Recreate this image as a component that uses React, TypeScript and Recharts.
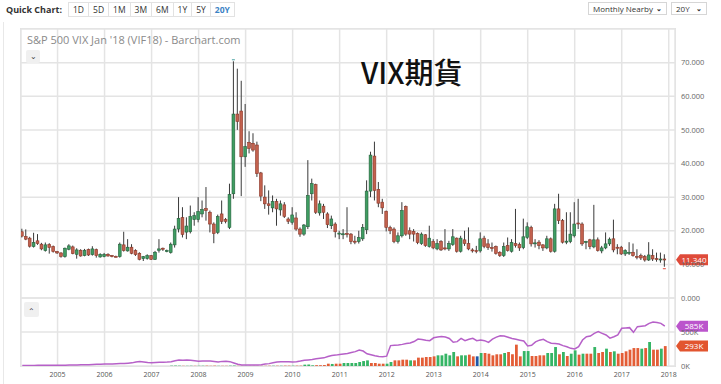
import React from 'react';
import { ComposedChart, Bar, Line, XAxis, YAxis, CartesianGrid, ReferenceLine, Cell } from 'recharts';

// monthly nearby VIX futures, Apr 2004 .. Dec 2017 (index 0 = Apr 2004)
const opens = [
  19.7, 18.3, 17.8, 15.3, 17.0, 16.0, 14.1, 15.9, 15.3,
  13.8, 13.4, 12.3, 14.5, 15.2, 13.0, 14.2, 12.6, 14.4, 12.9, 14.4, 12.2,
  12.3, 13.0, 12.6, 12.4, 12.3, 15.8, 14.0, 15.1, 14.1, 13.3, 11.7, 11.7,
  12.6, 11.5, 14.2, 14.8, 14.0, 13.5, 15.8, 20.5, 23.9, 19.6, 19.7, 23.3,
  23.3, 25.0, 26.6, 25.5, 22.0, 19.5, 25.0, 23.3, 21.0, 31.0, 54.7, 55.6,
  42.0, 46.3, 46.0, 45.5, 37.2, 30.0, 28.0, 26.8, 28.7, 26.2, 27.7, 23.5,
  22.5, 23.8, 20.5, 19.0, 21.2, 31.0, 33.7, 25.3, 27.3, 25.0, 21.5, 22.0,
  19.2, 19.0, 19.2, 19.0, 16.9, 16.8, 17.6, 20.3, 31.8, 42.2, 32.3, 28.5,
  25.8, 21.0, 20.5, 16.8, 18.5, 27.2, 20.0, 19.8, 19.2, 16.2, 18.8, 15.3,
  16.8, 14.6, 16.8, 14.9, 14.6, 15.9, 17.8, 13.9, 17.3, 16.2, 14.3, 14.1,
  14.0, 17.8, 16.1, 15.0, 15.3, 13.6, 12.6, 15.6, 13.9, 16.2, 15.9, 15.0,
  18.0, 21.0, 16.2, 16.6, 15.8, 14.9, 17.6, 13.9, 26.5, 23.0, 16.6, 16.8,
  18.5, 22.3, 22.0, 16.6, 17.3, 15.2, 17.3, 14.0, 14.9, 16.1, 17.6, 15.1,
  15.1, 13.1, 13.6, 13.6, 12.4, 12.6, 12.3, 11.3, 12.6, 11.7, 11.5, 11.6,
];
const highs = [
  20.6, 20.4, 18.2, 19.4, 19.0, 16.4, 16.5, 16.3, 15.6,
  14.0, 13.6, 15.0, 16.0, 15.6, 14.8, 14.5, 14.6, 14.7, 15.4, 14.7, 13.3,
  13.4, 13.3, 12.8, 12.6, 16.5, 19.7, 17.5, 16.0, 14.5, 13.6, 12.5, 13.0,
  12.8, 14.0, 17.5, 15.0, 14.4, 16.5, 21.5, 30.0, 27.0, 24.0, 27.5, 25.5,
  30.0, 29.0, 33.0, 26.0, 22.5, 24.8, 29.0, 23.8, 34.0, 70.4, 68.2, 64.6,
  57.7, 49.6, 49.0, 46.5, 37.5, 33.5, 32.0, 30.5, 29.5, 29.0, 28.5, 24.0,
  27.0, 25.5, 21.0, 22.0, 41.0, 35.5, 34.0, 29.0, 28.0, 25.5, 24.5, 22.5,
  20.0, 20.5, 27.0, 19.3, 18.5, 20.0, 22.0, 35.0, 43.5, 46.5, 34.5, 29.5,
  26.0, 21.5, 21.0, 19.5, 28.5, 27.5, 21.0, 20.5, 19.5, 19.5, 19.0, 21.5,
  17.5, 17.5, 17.2, 20.5, 17.0, 20.5, 18.0, 18.5, 20.0, 21.0, 14.8, 15.5,
  19.5, 18.5, 17.5, 16.5, 15.6, 13.9, 16.5, 18.0, 17.5, 26.5, 16.5, 23.6,
  22.5, 21.5, 17.5, 17.2, 16.0, 18.5, 18.0, 28.0, 31.0, 23.5, 25.5, 25.5,
  28.5, 29.5, 22.5, 17.0, 17.6, 27.7, 18.0, 15.5, 19.5, 18.0, 23.3, 16.0,
  15.5, 14.5, 16.6, 16.2, 14.5, 13.2, 12.8, 16.6, 14.5, 13.5, 13.5, 13.0,
];
const lows = [
  18.0, 17.2, 15.0, 15.0, 15.8, 14.2, 13.8, 13.2, 13.5,
  13.1, 12.0, 12.0, 14.2, 13.0, 11.7, 12.3, 12.4, 12.5, 12.6, 12.0, 12.0,
  12.1, 12.3, 12.1, 12.1, 12.0, 13.8, 13.8, 13.0, 12.5, 11.2, 11.0, 11.4,
  11.3, 11.3, 13.5, 14.0, 13.6, 13.2, 15.0, 19.5, 18.0, 17.5, 19.2, 21.5,
  22.5, 24.0, 23.0, 19.5, 16.3, 19.0, 22.0, 22.2, 20.5, 29.5, 50.0, 30.3,
  39.0, 43.0, 43.5, 36.0, 28.8, 26.5, 24.8, 25.5, 21.5, 24.5, 23.8, 22.0,
  21.8, 20.0, 18.2, 18.5, 20.5, 29.0, 25.0, 24.5, 23.5, 20.8, 20.5, 18.0,
  17.5, 17.5, 18.0, 16.0, 16.0, 16.2, 17.0, 19.0, 30.0, 29.0, 27.0, 25.0,
  19.8, 19.0, 16.3, 16.2, 18.0, 18.5, 17.5, 16.8, 16.0, 15.8, 15.2, 15.0,
  14.5, 14.2, 14.0, 14.2, 14.0, 15.5, 13.5, 13.5, 15.5, 14.2, 13.5, 13.3,
  13.5, 14.8, 14.3, 13.8, 12.9, 12.2, 12.2, 13.8, 13.5, 15.0, 14.0, 14.5,
  17.5, 15.3, 15.0, 14.5, 14.0, 14.5, 13.5, 13.5, 22.0, 16.2, 16.0, 16.3,
  18.0, 20.5, 15.5, 14.5, 14.5, 14.8, 13.8, 13.3, 14.5, 15.5, 13.6, 13.0,
  12.8, 12.5, 12.8, 12.3, 11.5, 11.3, 10.8, 11.0, 11.0, 10.8, 10.5, 9.3,
];
const closes = [
  18.4, 17.5, 15.4, 16.5, 16.2, 14.6, 15.8, 15.0, 13.8,
  13.4, 12.4, 14.8, 15.5, 13.2, 14.3, 12.5, 14.2, 12.8, 14.6, 12.6, 13.0,
  13.0, 12.5, 12.3, 12.3, 16.0, 14.1, 15.1, 13.3, 12.9, 11.5, 12.3, 12.6,
  11.5, 13.6, 14.6, 14.5, 14.1, 16.0, 20.5, 23.7, 18.9, 21.4, 24.3, 24.5,
  25.7, 26.3, 26.0, 22.0, 19.2, 24.2, 22.8, 22.8, 30.8, 54.7, 52.5, 42.0,
  45.0, 44.5, 44.0, 37.0, 30.3, 28.0, 27.5, 28.7, 26.5, 28.0, 24.3, 22.8,
  24.7, 20.5, 19.0, 21.7, 30.5, 34.0, 25.5, 28.0, 25.5, 21.8, 23.5, 19.7,
  19.3, 19.1, 19.0, 16.8, 16.7, 18.0, 21.0, 31.8, 42.5, 32.0, 28.2, 26.8,
  21.0, 20.0, 16.8, 18.5, 26.0, 19.0, 19.0, 19.0, 16.5, 19.0, 15.6, 17.8,
  14.9, 16.2, 14.3, 14.8, 16.2, 18.2, 13.9, 17.8, 16.2, 14.6, 14.1, 14.0,
  17.6, 15.3, 15.0, 14.9, 13.3, 12.6, 15.3, 14.1, 16.5, 15.6, 14.9, 18.2,
  21.2, 16.1, 16.4, 15.6, 14.9, 17.6, 13.9, 26.5, 23.0, 16.6, 16.9, 19.0,
  22.0, 22.1, 16.1, 16.8, 15.3, 17.3, 14.1, 14.9, 16.1, 17.5, 14.3, 14.8,
  13.1, 14.1, 13.6, 12.6, 12.3, 11.9, 11.3, 12.8, 11.6, 11.6, 11.6, 11.34,
];
// volume and open interest, thousands of contracts
const volumes = [
  0, 0, 0, 0, 0, 0, 0, 0, 0,
  0, 0, 0, 0, 0, 0, 0, 0, 0, 0, 0, 0,
  0, 0, 0, 0, 0, 0, 0, 0, 0, 0, 0, 0,
  0, 0, 0, 0, 0, 5, 6, 5, 3, 3, 4, 3,
  4, 4, 5, 3, 5, 3, 3, 3, 5, 6, 3, 3,
  3, 3, 3, 3, 3, 3, 4, 4, 4, 4, 5, 5,
  5, 5, 5, 20, 22, 10, 12, 12, 14, 34, 30, 34,
  34, 44, 44, 44, 44, 59, 73, 83, 44, 44, 34, 34,
  34, 59, 83, 83, 93, 93, 83, 83, 123, 123, 132, 132,
  142, 157, 157, 181, 157, 206, 142, 157, 157, 167, 142, 142,
  191, 191, 181, 157, 172, 172, 191, 206, 172, 314, 142, 220,
  220, 147, 147, 157, 157, 191, 191, 279, 172, 206, 147, 181,
  230, 167, 181, 181, 181, 279, 191, 206, 255, 206, 216, 181,
  191, 216, 240, 264, 264, 255, 264, 353, 240, 240, 255, 293,
];
const volSides = [
  'u', 'u', 'u', 'u', 'u', 'u', 'u', 'u', 'u',
  'u', 'u', 'u', 'u', 'u', 'u', 'u', 'u', 'u', 'u', 'u', 'u',
  'u', 'u', 'u', 'u', 'u', 'u', 'u', 'u', 'u', 'u', 'u', 'u',
  'u', 'u', 'u', 'u', 'u', 'u', 'u', 'u', 'd', 'u', 'u', 'd',
  'u', 'u', 'd', 'd', 'd', 'u', 'd', 'd', 'u', 'u', 'd', 'd',
  'u', 'd', 'd', 'd', 'd', 'd', 'd', 'u', 'd', 'u', 'd', 'd',
  'u', 'd', 'd', 'u', 'u', 'u', 'd', 'd', 'd', 'd', 'u', 'd',
  'd', 'u', 'u', 'u', 'u', 'u', 'u', 'u', 'd', 'd', 'd', 'd',
  'u', 'u', 'd', 'd', 'd', 'd', 'u', 'd', 'd', 'd', 'd', 'd',
  'd', 'u', 'u', 'u', 'u', 'u', 'd', 'u', 'u', 'd', 'd', 'n',
  'u', 'd', 'd', 'd', 'd', 'd', 'u', 'd', 'd', 'd', 'd', 'u',
  'u', 'd', 'd', 'd', 'd', 'u', 'u', 'u', 'd', 'u', 'd', 'u',
  'u', 'd', 'u', 'd', 'd', 'u', 'd', 'd', 'u', 'd', 'u', 'd',
  'd', 'd', 'd', 'd', 'd', 'u', 'd', 'u', 'd', 'd', 'u', 'd',
];
const openInterest = [
  8, 8, 9, 9, 10, 10, 10, 11, 11,
  11, 12, 12, 14, 15, 16, 18, 19, 20, 22, 24, 26,
  28, 28, 30, 32, 35, 38, 42, 46, 60, 66, 58, 50,
  49, 52, 54, 56, 58, 62, 78, 88, 85, 88, 84, 78,
  70, 72, 75, 72, 66, 60, 68, 70, 64, 45, 25, 15,
  14, 15, 15, 16, 20, 28, 35, 48, 58, 62, 64, 62,
  58, 62, 72, 85, 90, 95, 105, 115, 120, 140, 155, 160,
  168, 176, 185, 200, 211, 235, 220, 180, 165, 150, 140, 137,
  145, 300, 305, 308, 318, 330, 338, 360, 397, 390, 378, 372,
  415, 425, 432, 425, 405, 350, 358, 405, 373, 392, 407, 373,
  382, 373, 348, 395, 425, 446, 440, 422, 405, 392, 380, 368,
  294, 305, 355, 380, 392, 358, 335, 330, 323, 300, 284, 260,
  250, 284, 382, 430, 441, 480, 505, 480, 456, 410, 430, 456,
  554, 560, 564, 495, 578, 585, 593, 627, 647, 640, 627, 585,
];

// x positions of January of each year (months since Apr 2004)
const yearTicks = [9, 21, 33, 45, 57, 69, 81, 93, 105, 117, 129, 141, 153, 165];
const yearLabels = ['2005', '2006', '2007', '2008', '2009', '2010', '2011', '2012', '2013', '2014', '2015', '2016', '2017', '2018'];
const priceTicks = [0, 10, 20, 30, 40, 50, 60, 70, 80];
const volumeTicks = [0, 500, 1000];
const quickRanges = ['1D', '5D', '1M', '3M', '6M', '1Y', '5Y', '20Y'];

const data = opens.map((o, i) => ({
  t: i,
  open: o,
  high: highs[i],
  low: lows[i],
  close: closes[i],
  range: [lows[i], highs[i]],
  vol: volumes[i],
  side: volSides[i],
  oi: openInterest[i],
}));

const maxHigh = Math.max(...highs);
const minLow = Math.min(...lows);
const last = data[data.length - 1];

const X_DOMAIN: [number, number] = [-0.33, 166.6];
const GRID = '#e4e4e4';
const FONT = "'Open Sans', sans-serif";

const Candle = (props: any) => {
  const { x, y, width, height, payload } = props;
  if (x == null || y == null || !payload) return null;
  const top = Math.min(y, y + height);
  const h = Math.abs(height);
  const span = payload.high - payload.low;
  const k = span > 0 ? h / span : 0;
  const yOf = (v: number) => top + (payload.high - v) * k;
  const cx = x + width / 2;
  const up = payload.close >= payload.open;
  const bTop = yOf(Math.max(payload.open, payload.close));
  const bBot = yOf(Math.min(payload.open, payload.close));
  const bh = Math.max(bBot - bTop, 1);
  return (
    <g>
      <line x1={cx} x2={cx} y1={top} y2={top + h} stroke="#3a3a3a" strokeWidth={1} />
      <rect
        x={cx - 1.4}
        y={bTop}
        width={2.8}
        height={bh}
        fill={up ? '#3f9d62' : '#c2614e'}
        stroke={up ? '#245f3b' : '#8a3627'}
        strokeWidth={0.6}
      />
      {payload.high === maxHigh && (
        <line x1={cx - 1.5} x2={cx + 1.5} y1={top - 1.5} y2={top - 1.5} stroke="#4aa3a3" strokeWidth={1} />
      )}
      {payload.low === minLow && (
        <line x1={cx - 1.5} x2={cx + 1.5} y1={top + h + 2} y2={top + h + 2} stroke="#e0483c" strokeWidth={1} />
      )}
    </g>
  );
};

const Tag = ({ viewBox, text, color }: any) => {
  if (!viewBox) return null;
  const x0 = viewBox.x + viewBox.width + 1;
  const yc = viewBox.y;
  const w = 28;
  return (
    <g>
      <polygon
        points={`${x0},${yc} ${x0 + 4},${yc - 5.5} ${x0 + 4 + w},${yc - 5.5} ${x0 + 4 + w},${yc + 5.5} ${x0 + 4},${yc + 5.5}`}
        fill={color}
      />
      <text x={x0 + 4 + w / 2} y={yc + 3} textAnchor="middle" fill="#fff" fontSize={8} fontFamily={FONT}>
        {text}
      </text>
    </g>
  );
};

const volColor = (s: string) => (s === 'u' ? '#35b565' : s === 'd' ? '#e35d36' : '#1f57a8');

const abs = (left: number, top: number, extra: React.CSSProperties = {}): React.CSSProperties => ({
  position: 'absolute',
  left,
  top,
  ...extra,
});

export default function App() {
  return (
    <div style={{ position: 'absolute', left: 0, top: 0, width: 721, height: 384, background: '#fff', overflow: 'hidden', fontFamily: FONT }}>
      {/* header row */}
      <div style={abs(6, 2, { fontSize: 9, fontWeight: 700, color: '#333', lineHeight: '15px' })}>Quick Chart:</div>
      <div style={abs(68, 2, { display: 'flex', height: 15, border: '1px solid #e2e2e2', boxSizing: 'border-box' })}>
        {quickRanges.map((r, i) => (
          <div
            key={r}
            style={{
              padding: '0 4px',
              fontSize: 8.5,
              lineHeight: '13px',
              color: r === '20Y' ? '#3b82c4' : '#333',
              fontWeight: r === '20Y' ? 700 : 400,
              borderLeft: i === 0 ? 'none' : '1px solid #e2e2e2',
            }}
          >
            {r}
          </div>
        ))}
      </div>
      <div style={abs(588, 2, { width: 79, height: 13, border: '1px solid #d6d6d6', boxSizing: 'border-box', fontSize: 8, lineHeight: '11px', color: '#333', paddingLeft: 4 })}>
        Monthly Nearby <span style={{ position: 'absolute', right: 4, fontSize: 7, fontWeight: 700 }}>&#8964;</span>
      </div>
      <div style={abs(671, 2, { width: 36, height: 13, border: '1px solid #d6d6d6', boxSizing: 'border-box', fontSize: 8, lineHeight: '11px', color: '#333', paddingLeft: 4 })}>
        20Y <span style={{ position: 'absolute', right: 4, fontSize: 7, fontWeight: 700 }}>&#8964;</span>
      </div>

      {/* outer container line */}
      <div style={abs(3, 22, { width: 1, height: 362, background: '#e8e8e8' })} />
      {/* plot frame */}
      <div style={abs(20, 28, { width: 656, height: 339, border: '1px solid #e2e2e2', boxSizing: 'border-box' })} />

      <div style={abs(0, 0)}>
        <ComposedChart width={721} height={384} data={data} margin={{ top: 29, right: 0, bottom: 86, left: 21 }}>
          <CartesianGrid stroke={GRID} strokeWidth={1.5} />
          <XAxis type="number" dataKey="t" domain={X_DOMAIN} ticks={yearTicks} hide allowDataOverflow />
          <YAxis
            orientation="right"
            width={46}
            domain={[0, 80]}
            ticks={priceTicks}
            tickFormatter={(v: number) => (v === 80 ? '' : v.toFixed(3))}
            tick={{ fontSize: 7.5, fill: '#666', fontFamily: FONT, textAnchor: 'start' }}
            axisLine={false}
            tickLine={false}
            tickMargin={0}
            allowDataOverflow
          />
          <Bar dataKey="range" barSize={3} shape={<Candle />} isAnimationActive={false} />
          <ReferenceLine y={last.close} stroke="none" ifOverflow="visible" label={<Tag text={last.close.toFixed(3)} color="#df4b3a" />} />
        </ComposedChart>
      </div>

      <div style={abs(0, 0)}>
        <ComposedChart width={721} height={384} data={data} margin={{ top: 298, right: 0, bottom: 0, left: 21 }}>
          <CartesianGrid stroke={GRID} strokeWidth={1.5} />
          <XAxis
            type="number"
            dataKey="t"
            domain={X_DOMAIN}
            ticks={yearTicks}
            height={18}
            tickFormatter={(v: number) => yearLabels[yearTicks.indexOf(v)] ?? ''}
            tick={{ fontSize: 7, fill: '#555', fontFamily: FONT }}
            axisLine={false}
            tickLine={false}
            tickMargin={0}
            allowDataOverflow
          />
          <YAxis
            orientation="right"
            width={46}
            domain={[0, 1000]}
            ticks={volumeTicks}
            tickFormatter={(v: number) => (v === 1000 ? '' : `${v}K`)}
            tick={{ fontSize: 7.5, fill: '#666', fontFamily: FONT, textAnchor: 'start' }}
            axisLine={false}
            tickLine={false}
            tickMargin={0}
            allowDataOverflow
          />
          <Bar dataKey="vol" barSize={2.8} isAnimationActive={false}>
            {data.map((d) => (
              <Cell key={d.t} fill={volColor(d.side)} />
            ))}
          </Bar>
          <Line type="linear" dataKey="oi" stroke="#b660c8" strokeWidth={1.5} dot={false} isAnimationActive={false} />
          <ReferenceLine y={last.oi} stroke="none" ifOverflow="visible" label={<Tag text={`${last.oi}K`} color="#bb55cc" />} />
          <ReferenceLine y={last.vol} stroke="none" ifOverflow="visible" label={<Tag text={`${last.vol}K`} color="#e2552f" />} />
        </ComposedChart>
      </div>

      {/* title and panel buttons */}
      <div style={abs(27, 32, { fontSize: 11, color: '#8a8a8a', whiteSpace: 'nowrap' })}>S&amp;P 500 VIX Jan '18 (VIF18) - Barchart.com</div>
      <div style={abs(26, 50, { width: 14, height: 13, background: '#f0f0f0', borderRadius: 2, fontSize: 8, lineHeight: '11px', textAlign: 'center', color: '#444' })}>&#8964;</div>
      <div style={abs(24, 302, { width: 15, height: 15, background: '#f0f0f0', borderRadius: 2, fontSize: 8, lineHeight: '17px', textAlign: 'center', color: '#444' })}>&#8963;</div>
      <div style={abs(361, 51, { fontSize: 29, fontWeight: 500, color: '#111', fontFamily: "'Noto Sans CJK TC', 'Noto Sans', sans-serif", whiteSpace: 'nowrap', lineHeight: '40px' })}>VIX期貨</div>
    </div>
  );
}
